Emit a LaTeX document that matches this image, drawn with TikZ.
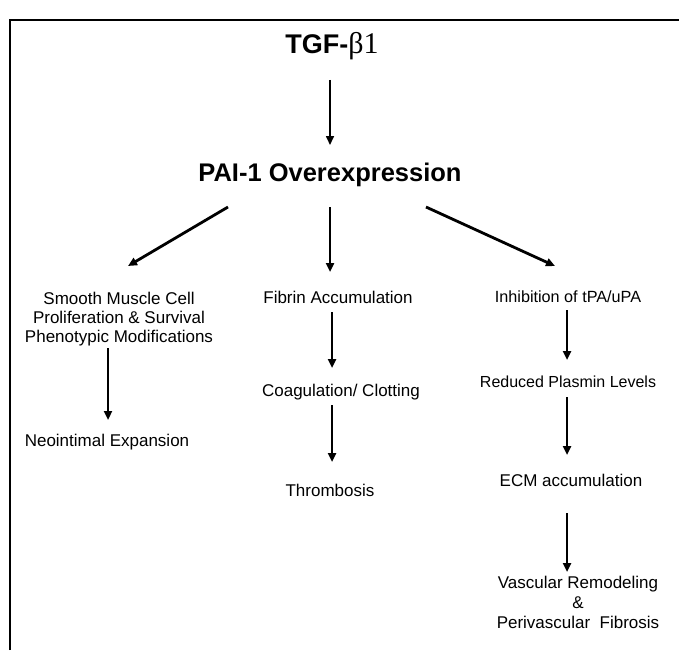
\documentclass[tikz,border=0pt]{standalone}
\usepackage{fontspec}
\setmainfont{Liberation Sans}
\newfontfamily\grk{Liberation Serif}
\usetikzlibrary{arrows.meta,calc}
\begin{document}
\begin{tikzpicture}[x=1pt,y=-1pt,
  lbl/.style={inner sep=0pt, font=\fontsize{17}{19.5}\selectfont, align=center, anchor=base},
  big/.style={inner sep=0pt, font=\bfseries\fontsize{25.5}{28}\selectfont, anchor=base},
  arr/.style={-{Triangle[length=9pt,width=8pt]}, line width=2.4pt},
]
\useasboundingbox (0,0) rectangle (679,650);
\draw[line width=1.2pt] (10,650) -- (10,20) -- (679,20);

\node[big, font=\bfseries\fontsize{27}{30}\selectfont] (tgf) at (332,54) {TGF-{\grk\mdseries\fontsize{30}{30}\selectfont β1}};
\node[big] (pai) at (330,181) {PAI-1 Overexpression};
\node[lbl, font=\fontsize{17}{19}\selectfont] (smc) at (119,342) {Smooth Muscle Cell\\Proliferation \& Survival\\Phenotypic Modifications};
\node[lbl] (neo) at (107,446) {Neointimal Expansion};
\node[lbl] (fib) at (338,303) {Fibrin Accumulation};
\node[lbl] (coa) at (341,396) {Coagulation/ Clotting};
\node[lbl] (thr) at (330,496) {Thrombosis};
\node[lbl, font=\fontsize{16.2}{19}\selectfont] (inh) at (568,302) {Inhibition of tPA/uPA};
\node[lbl, font=\fontsize{16}{19}\selectfont] (red) at (568,387) {Reduced Plasmin Levels};
\node[lbl] (ecm) at (571,486) {ECM accumulation};
\node[lbl, font=\fontsize{17}{20}\selectfont] (vas) at (578,628) {Vascular Remodeling\\\&\\Perivascular\ \ Fibrosis};

\draw[arr, line width=1.6pt] ($(tgf.base)+(-2,26)$) -- ($(pai.base)+(0,-36)$);
\draw[arr, line width=2.8pt] ($(pai.base)+(-102,26)$) -- ($(smc.base)+(9,-76)$);
\draw[arr] ($(pai.base)+(0,26)$) -- ($(fib.base)+(-8,-31)$);
\draw[arr, line width=2.8pt] ($(pai.base)+(96,26)$) -- ($(inh.base)+(-13,-36)$);
\draw[arr] ($(smc.base)+(-11,6)$) -- ($(neo.base)+(1,-26)$);
\draw[arr] ($(fib.base)+(-6,9)$) -- ($(coa.base)+(-9,-28)$);
\draw[arr] ($(coa.base)+(-9,9)$) -- ($(thr.base)+(2,-34)$);
\draw[arr] ($(inh.base)+(-1,8)$) -- ($(red.base)+(-1,-27)$);
\draw[arr] ($(red.base)+(-1,10)$) -- ($(ecm.base)+(-4,-31)$);
\draw[arr] ($(ecm.base)+(-4,27)$) -- ($(vas.base)+(-11,-56)$);
\end{tikzpicture}
\end{document}
